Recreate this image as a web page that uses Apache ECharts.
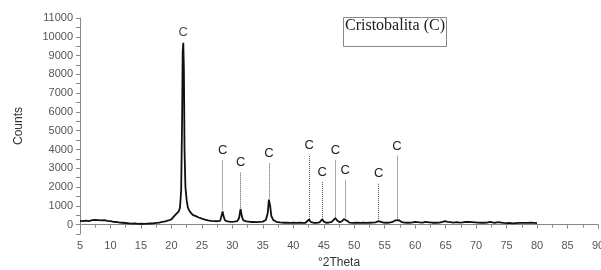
<!DOCTYPE html>
<html>
<head>
<meta charset="utf-8">
<script src="https://cdn.jsdelivr.net/npm/echarts@6/dist/echarts.min.js"></script>
<style>
  html, body { margin: 0; padding: 0; background: #fff; }
  #chart { width: 601px; height: 270px; }
</style>
</head>
<body>
<div id="chart"></div>
<script>
// diffraction pattern (2theta, counts)
var twoTheta = [
  5, 5.5, 6, 6.5, 7, 7.5, 8, 8.5, 9, 9.5, 10, 10.5, 11, 11.5, 12, 12.5, 13, 13.5, 14, 14.5,
  15, 15.5, 16, 16.5, 17, 17.5, 18, 18.5, 19, 19.5, 20, 20.3, 20.6, 20.9, 21.2, 21.4, 21.6, 21.75, 21.85, 21.95,
  22.05, 22.15, 22.3, 22.5, 22.7, 23, 23.5, 24, 24.5, 25, 25.5, 26, 26.5, 27, 27.5, 28, 28.2, 28.4, 28.55, 28.8,
  29.2, 29.8, 30.3, 30.8, 31.1, 31.35, 31.55, 31.8, 32.3, 33, 33.5, 34, 34.5, 35, 35.5, 35.8, 36, 36.2, 36.4, 36.7,
  37.2, 37.8, 38.5, 39, 39.5, 40, 40.5, 41, 41.5, 42, 42.3, 42.6, 42.9, 43.3, 43.8, 44.3, 44.5, 44.75, 45, 45.4,
  45.8, 46.3, 46.6, 46.9, 47.2, 47.6, 48, 48.3, 48.5, 48.8, 49.2, 49.8, 50.5, 51, 51.5, 52, 52.5, 53, 53.5, 53.8,
  54, 54.3, 54.8, 55.3, 55.8, 56.3, 56.7, 57, 57.3, 57.7, 58.2, 58.8, 59.4, 60, 60.3, 60.7, 61.2, 61.7, 62, 62.3,
  62.8, 63.4, 64, 64.5, 64.9, 65.3, 65.8, 66.3, 66.8, 67.3, 67.8, 68.3, 68.8, 69.3, 69.8, 70.3, 70.8, 71.3, 71.8, 72.3,
  72.8, 73.2, 73.7, 74.1, 74.5, 75, 75.5, 76, 76.5, 77, 77.5, 78, 78.5, 79, 79.5, 80
];
var counts = [
  200, 180, 215, 190, 235, 250, 240, 225, 235, 200, 190, 150, 140, 110, 100, 85, 70, 55, 60, 40,
  50, 35, 50, 60, 70, 90, 110, 140, 170, 220, 280, 350, 500, 600, 700, 900, 1800, 5500, 9200, 9680,
  8200, 4000, 2000, 1300, 900, 700, 520, 450, 380, 320, 270, 230, 200, 190, 180, 200, 300, 700, 450, 220,
  170, 150, 160, 180, 350, 840, 450, 220, 170, 140, 150, 130, 150, 160, 250, 600, 1330, 1000, 450, 250,
  150, 120, 100, 110, 90, 100, 90, 110, 90, 100, 150, 270, 130, 100, 90, 120, 180, 280, 160, 100,
  110, 150, 250, 350, 220, 130, 180, 300, 360, 200, 110, 90, 100, 90, 100, 90, 100, 110, 120, 160,
  190, 140, 110, 100, 110, 140, 220, 310, 240, 150, 110, 100, 110, 150, 170, 120, 110, 140, 180, 120,
  100, 100, 110, 140, 180, 150, 130, 110, 130, 100, 120, 150, 140, 130, 120, 110, 100, 100, 110, 140,
  110, 100, 130, 110, 90, 80, 90, 70, 80, 90, 90, 90, 90, 100, 90, 80
];

// "C" markers: peak position, dotted line bottom/top
var peakPos = [28.4, 31.35, 36.0, 42.6, 44.75, 46.9, 48.5, 54.0, 57.0];
var lineBottom = [800, 900, 1400, 300, 300, 380, 380, 200, 330];
var lineTop = [3460, 2820, 3300, 3720, 2290, 3460, 2390, 2230, 3670];
var mainPeak = [21.95, 10250];

var xTicks = { min: 5, max: 90, step: 5 };
var yTicks = { min: -500, max: 11000, step: 500 };

var chart = echarts.init(document.getElementById("chart"));

var pattern = twoTheta.map(function (x, i) { return [x, counts[i]]; });
var dotted = peakPos.map(function (x, i) {
  return [{ coord: [x, lineBottom[i]] }, { coord: [x, lineTop[i]] }];
});

var option = {
  animation: false,
  title: {
    text: "Cristobalita (C)",
    left: 343,
    top: 17,
    padding: [1, 2, 13, 2],
    borderColor: "#888",
    borderWidth: 1,
    backgroundColor: "#fff",
    textStyle: {
      fontFamily: "Liberation Serif",
      fontWeight: "normal",
      fontSize: 16,
      color: "#222",
    },
  },
  grid: {
    left: 80,
    right: 3,
    top: 18,
    bottom: 36,
    outerBoundsMode: "none",
    containLabel: false,
  },
  xAxis: {
    type: "value",
    min: xTicks.min,
    max: xTicks.max,
    interval: xTicks.step,
    name: "°2Theta",
    nameLocation: "middle",
    nameGap: 23,
    nameTextStyle: { fontFamily: "Liberation Sans", fontSize: 12, color: "#333" },
    axisLine: { lineStyle: { color: "#888" } },
    axisTick: { length: 4, lineStyle: { color: "#888" } },
    minorTick: { show: true, splitNumber: 2, length: 3, lineStyle: { color: "#888" } },
    axisLabel: { fontFamily: "Liberation Sans", fontSize: 11, color: "#555", margin: 6, hideOverlap: false },
    splitLine: { show: false },
  },
  yAxis: {
    type: "value",
    min: yTicks.min,
    max: yTicks.max,
    interval: yTicks.step,
    name: "Counts",
    nameLocation: "middle",
    nameGap: 55,
    nameTextStyle: { fontFamily: "Liberation Sans", fontSize: 12, color: "#333" },
    axisLine: { show: true, lineStyle: { color: "#888" } },
    axisTick: { length: 4, lineStyle: { color: "#888" } },
    axisLabel: {
      fontFamily: "Liberation Sans",
      fontSize: 11,
      color: "#555",
      margin: 7,
      formatter: function (v) {
        return v >= 0 && v % 1000 === 0 ? String(v) : "";
      },
    },
    splitLine: { show: false },
  },
  series: [
    {
      name: "pattern",
      type: "line",
      data: pattern,
      showSymbol: false,
      lineStyle: { color: "#111", width: 1.8 },
      markLine: {
        silent: true,
        symbol: ["none", "none"],
        lineStyle: { color: "#555", type: "dotted", width: 1 },
        label: {
          show: true,
          position: "end",
          distance: 3,
          formatter: "C",
          fontFamily: "Liberation Sans",
          fontSize: 13,
          color: "#222",
        },
        data: dotted,
      },
    },
    {
      name: "main peak",
      type: "scatter",
      data: [mainPeak],
      symbolSize: 0,
      silent: true,
      label: {
        show: true,
        position: "inside",
        formatter: "C",
        fontFamily: "Liberation Sans",
        fontSize: 13,
        color: "#222",
      },
    },
  ],
};

option && chart.setOption(option);
</script>
</body>
</html>
